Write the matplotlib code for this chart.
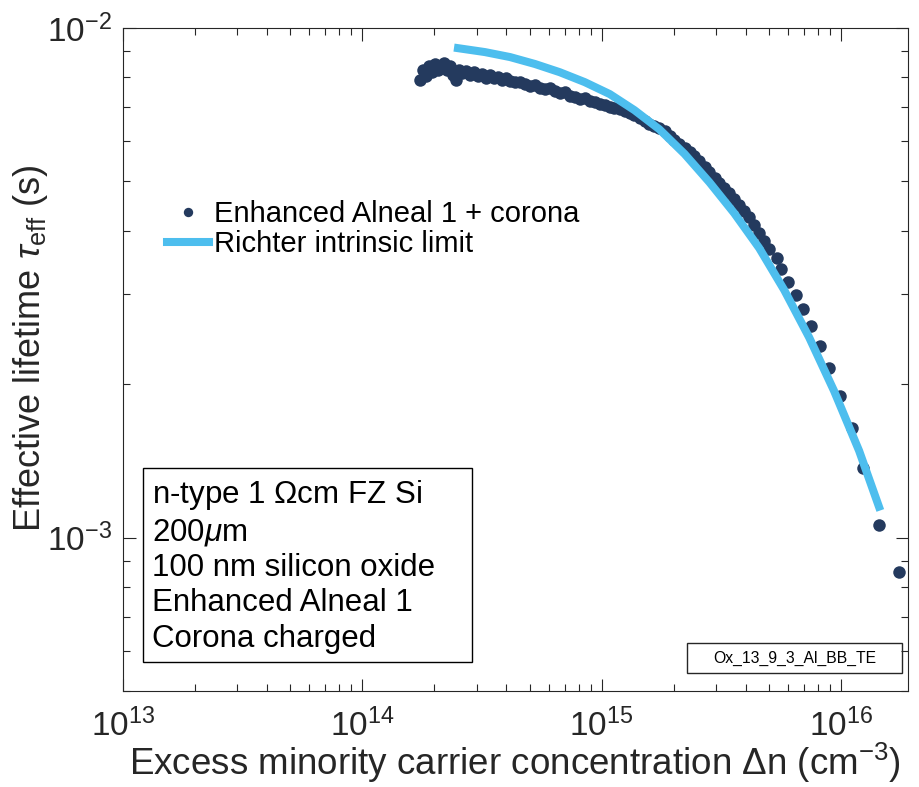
import numpy as np
import matplotlib
matplotlib.use("Agg")
import matplotlib.pyplot as plt
from matplotlib.patches import Rectangle

# font setup (MATLAB-like Helvetica look)
plt.rcParams['font.family'] = ['Liberation Sans', 'DejaVu Sans']
plt.rcParams['mathtext.fontset'] = 'custom'
plt.rcParams['mathtext.rm'] = 'Liberation Sans'
plt.rcParams['mathtext.it'] = 'Liberation Sans:italic'
plt.rcParams['mathtext.bf'] = 'Liberation Sans:bold'

dn_meas = [1.74e14, 1.80e14, 1.85e14, 1.90e14, 1.96e14, 2.01e14, 2.07e14, 2.13e14,
           2.20e14, 2.26e14, 2.33e14, 2.39e14, 2.46e14, 2.54e14, 2.61e14, 2.71e14,
           2.82e14, 2.93e14, 3.04e14, 3.16e14, 3.29e14, 3.41e14, 3.55e14, 3.69e14,
           3.83e14, 3.98e14, 4.14e14, 4.34e14, 4.55e14, 4.78e14, 5.01e14, 5.26e14,
           5.52e14, 5.79e14, 6.07e14, 6.37e14, 6.68e14, 7.01e14, 7.36e14, 7.72e14,
           8.10e14, 8.49e14, 8.91e14, 9.35e14, 9.81e14, 1.03e15, 1.08e15, 1.13e15,
           1.19e15, 1.25e15, 1.31e15, 1.37e15, 1.44e15, 1.51e15, 1.58e15, 1.66e15,
           1.74e15, 1.83e15, 1.92e15, 2.01e15, 2.11e15, 2.22e15, 2.33e15, 2.44e15,
           2.56e15, 2.69e15, 2.82e15, 2.96e15, 3.10e15, 3.25e15, 3.41e15, 3.58e15,
           3.76e15, 3.94e15, 4.14e15, 4.34e15, 4.55e15, 4.78e15, 5.01e15, 5.41e15,
           5.62e15, 6.01e15, 6.49e15, 6.95e15, 7.50e15, 8.18e15, 8.91e15, 9.90e15,
           1.11e16, 1.24e16, 1.44e16, 1.74e16]
tau_meas = [7.90e-3, 8.27e-3, 8.05e-3, 8.42e-3, 8.20e-3, 8.50e-3, 8.27e-3, 8.42e-3,
            8.54e-3, 8.27e-3, 8.42e-3, 8.09e-3, 7.90e-3, 8.27e-3, 8.16e-3, 8.23e-3,
            8.09e-3, 8.20e-3, 8.05e-3, 8.12e-3, 7.98e-3, 8.09e-3, 7.98e-3, 8.01e-3,
            7.90e-3, 7.98e-3, 7.87e-3, 7.83e-3, 7.83e-3, 7.76e-3, 7.69e-3, 7.73e-3,
            7.62e-3, 7.59e-3, 7.62e-3, 7.52e-3, 7.45e-3, 7.49e-3, 7.35e-3, 7.32e-3,
            7.25e-3, 7.29e-3, 7.19e-3, 7.16e-3, 7.09e-3, 7.06e-3, 7.00e-3, 6.96e-3,
            6.93e-3, 6.87e-3, 6.81e-3, 6.75e-3, 6.66e-3, 6.57e-3, 6.48e-3, 6.42e-3,
            6.36e-3, 6.28e-3, 6.14e-3, 6.03e-3, 5.92e-3, 5.81e-3, 5.71e-3, 5.60e-3,
            5.48e-3, 5.33e-3, 5.21e-3, 5.07e-3, 4.96e-3, 4.85e-3, 4.74e-3, 4.61e-3,
            4.49e-3, 4.37e-3, 4.25e-3, 4.10e-3, 3.96e-3, 3.82e-3, 3.68e-3, 3.53e-3,
            3.36e-3, 3.18e-3, 2.99e-3, 2.81e-3, 2.60e-3, 2.38e-3, 2.15e-3, 1.90e-3,
            1.64e-3, 1.37e-3, 1.06e-3, 8.57e-4]

# Richter intrinsic limit curve
dn_richter = [2.51e14, 3.25e14, 4.14e14, 5.26e14, 6.68e14, 8.50e14, 1.08e15, 1.37e15,
              1.74e15, 2.22e15, 2.82e15, 3.58e15, 4.55e15, 5.79e15, 7.36e15, 9.35e15,
              1.19e16, 1.44e16]
tau_richter = [9.13e-3, 8.97e-3, 8.77e-3, 8.50e-3, 8.19e-3, 7.83e-3, 7.42e-3, 6.90e-3,
               6.33e-3, 5.66e-3, 4.98e-3, 4.33e-3, 3.70e-3, 3.06e-3, 2.47e-3, 1.94e-3,
               1.48e-3, 1.15e-3]

info_lines = ["n-type 1 $\\Omega$cm FZ Si",
              "200$\\mu$m",
              "100 nm silicon oxide",
              "Enhanced Alneal 1",
              "Corona charged"]
sample_id = "Ox_13_9_3_Al_BB_TE"

navy = '#243A5E'
sky = '#4DBEEE'
axcol = '#262626'

fig = plt.figure(figsize=(9.2, 7.87), dpi=100)
ax = fig.add_axes([0.1337, 0.122, 0.853, 0.8424])

ax.plot(dn_meas, tau_meas, 'o', color=navy, markersize=9, markeredgewidth=0,
        label='Enhanced Alneal 1 + corona', zorder=2)
ax.plot(dn_richter, tau_richter, '-', color=sky, linewidth=5.8,
        label='Richter intrinsic limit', zorder=3)

ax.set_xscale('log')
ax.set_yscale('log')
ax.set_xlim(1e13, 1.9e16)
ax.set_ylim(5e-4, 1e-2)

ax.tick_params(which='both', direction='in', top=True, right=True, colors=axcol,
               width=0.8)
ax.tick_params(which='major', length=9, labelsize=24)
ax.tick_params(axis='x', which='major', pad=13)
ax.tick_params(axis='y', which='major', pad=8)
ax.tick_params(which='minor', length=5)
for s in ax.spines.values():
    s.set_color(axcol)
    s.set_linewidth(0.8)

ax.set_xlabel('Excess minority carrier concentration $\\Delta$n (cm$^{-3}$)',
              fontsize=26.5, color=axcol, labelpad=-2)
ax.set_ylabel('Effective lifetime $\\tau_{\\rm eff}$ (s)', fontsize=26, color=axcol)
ax.yaxis.set_label_coords(-0.093, 0.517)

leg = ax.legend(loc='upper left', bbox_to_anchor=(0.056, 0.741), frameon=False,
                fontsize=21, borderpad=0, borderaxespad=0, handlelength=1.45,
                handletextpad=0.15, labelspacing=0.08, markerscale=0.75)

# sample info box
ax.add_patch(Rectangle((0.0255, 0.0437), 0.4191, 0.2926, transform=ax.transAxes,
                       fill=False, edgecolor='black', linewidth=1.0, zorder=4))
ax.text(0.037, 0.321, "\n".join(info_lines), transform=ax.transAxes, fontsize=22.5,
        va='top', ha='left', linespacing=1.22, zorder=5)

# sample id box
ax.add_patch(Rectangle((0.7185, 0.0271), 0.2739, 0.0453, transform=ax.transAxes,
                       fill=False, edgecolor=axcol, linewidth=1.0, zorder=4))
ax.text(0.8555, 0.0497, sample_id, transform=ax.transAxes, fontsize=11.3,
        va='center', ha='center', zorder=5)

plt.savefig("out.png", dpi=100)
